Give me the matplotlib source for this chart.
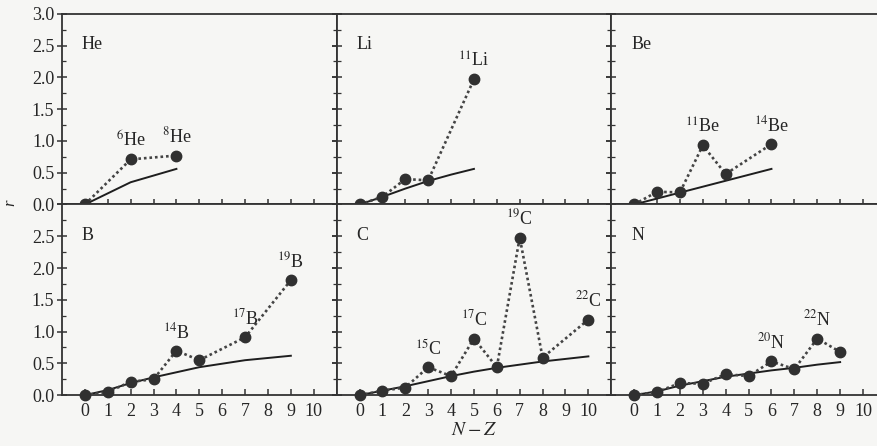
import numpy as np
import matplotlib
matplotlib.use("Agg")
import matplotlib.pyplot as plt
from matplotlib.ticker import MultipleLocator

plt.rcParams['font.family'] = ['Liberation Serif', 'DejaVu Serif']
plt.rcParams['mathtext.fontset'] = 'stix'

# donnees : N-Z, valeur, courbe de reference
he_nz = [0, 2, 4]
he_f = [0.0, 0.71, 0.77]
he_line_nz = [0, 2, 4]
he_line_f = [0.0, 0.35, 0.56]
he_tags = [2, 4]

li_nz = [0, 1, 2, 3, 5]
li_f = [0.0, 0.12, 0.40, 0.38, 1.97]
li_line_nz = [0, 1, 2, 3, 4, 5]
li_line_f = [0.0, 0.12, 0.25, 0.37, 0.47, 0.56]
li_tags = [5]

be_nz = [0, 1, 2, 3, 4, 6]
be_f = [0.0, 0.20, 0.19, 0.93, 0.48, 0.95]
be_line_nz = [0, 6]
be_line_f = [0.0, 0.56]
be_tags = [3, 6]

b_nz = [0, 1, 2, 3, 4, 5, 7, 9]
b_f = [0.0, 0.05, 0.21, 0.25, 0.70, 0.55, 0.91, 1.81]
b_line_nz = [0, 1, 2, 3, 5, 7, 9]
b_line_f = [0.0, 0.08, 0.19, 0.28, 0.44, 0.55, 0.62]
b_tags = [4, 7, 9]

c_nz = [0, 1, 2, 3, 4, 5, 6, 7, 8, 10]
c_f = [0.0, 0.07, 0.12, 0.44, 0.30, 0.89, 0.44, 2.48, 0.59, 1.19]
c_line_nz = [0, 1, 2, 3, 4, 5, 6, 7, 8, 10]
c_line_f = [0.0, 0.07, 0.14, 0.22, 0.30, 0.37, 0.43, 0.48, 0.53, 0.61]
c_tags = [3, 5, 7, 10]

n_nz = [0, 1, 2, 3, 4, 5, 6, 7, 8, 9]
n_f = [0.0, 0.05, 0.19, 0.18, 0.33, 0.30, 0.53, 0.41, 0.89, 0.68]
n_line_nz = [0, 1, 2, 3, 4, 5, 6, 7, 8, 9]
n_line_f = [0.0, 0.06, 0.15, 0.22, 0.29, 0.34, 0.39, 0.43, 0.48, 0.52]
n_tags = [6, 8]

panneaux = [
    ("He", 2, he_nz, he_f, he_line_nz, he_line_f, he_tags),
    ("Li", 3, li_nz, li_f, li_line_nz, li_line_f, li_tags),
    ("Be", 4, be_nz, be_f, be_line_nz, be_line_f, be_tags),
    ("B", 5, b_nz, b_f, b_line_nz, b_line_f, b_tags),
    ("C", 6, c_nz, c_f, c_line_nz, c_line_f, c_tags),
    ("N", 7, n_nz, n_f, n_line_nz, n_line_f, n_tags),
]

fond = '#f6f6f4'
encre = '#262626'

fig, axes = plt.subplots(2, 3, figsize=(8.78, 4.46), dpi=100)
fig.patch.set_facecolor(fond)
fig.subplots_adjust(left=0.0706, right=1.009, top=0.969, bottom=0.114,
                    wspace=0, hspace=0)

for i, (ax, (nom, z, nz, f, lnz, lf, tags)) in enumerate(zip(axes.flat, panneaux)):
    ligne, col = divmod(i, 3)
    ax.set_facecolor(fond)
    ax.plot(lnz, lf, color='#1e1e1e', lw=1.4, zorder=2)
    ax.plot(nz, f, ls=(0, (1, 1.1)), color='#444444', lw=1.9, zorder=3)
    ax.plot(nz, f, 'o', ms=7.5, color='#303030', zorder=4, clip_on=False)

    ax.text(0.072, 0.815, nom, transform=ax.transAxes, fontsize=13, color=encre)
    for t in tags:
        val = f[nz.index(t)]
        masse = 2 * z + t
        ax.text(t, val + 0.2, f"$^{{{masse}}}$" + nom, ha='center',
                va='baseline', fontsize=13, color=encre)

    ax.set_xlim(-1, 11)
    ax.set_ylim(0, 3)
    ax.set_xticks(range(0, 11))
    ax.yaxis.set_major_locator(MultipleLocator(0.5))
    ax.yaxis.set_minor_locator(MultipleLocator(0.25))

    for s in ax.spines.values():
        s.set_color('#333333')
        s.set_linewidth(1.3)

    ax.tick_params(which='major', direction='inout', length=7, width=1.1,
                   color='#333333', labelcolor=encre, labelsize=13,
                   left=True, right=True, top=False, bottom=True)
    ax.tick_params(which='minor', direction='in', length=3, width=0.9,
                   color='#333333', left=True, right=True, top=False, bottom=False)
    ax.tick_params(axis='y', pad=2)

    if ligne == 1:
        ax.tick_params(axis='x', direction='in', length=4, pad=6)
        ax.set_xticklabels([str(k) for k in range(0, 11)])
    else:
        ax.set_xticklabels([])

    if col == 0:
        labs = [f"{v:.1f}" for v in np.arange(0, 3.01, 0.5)]
        if ligne == 1:
            labs[-1] = ""
        ax.set_yticks(np.arange(0, 3.01, 0.5), labels=labs)
    else:
        ax.set_yticklabels([])

axes[1, 1].set_xlabel("$N - Z$", fontsize=14, color=encre, labelpad=1)
fig.text(0.012, 0.545, "r", rotation=90, fontsize=12, style='italic',
         color=encre, ha='center', va='center')

fig.savefig("out.png", dpi=100, facecolor=fond)
